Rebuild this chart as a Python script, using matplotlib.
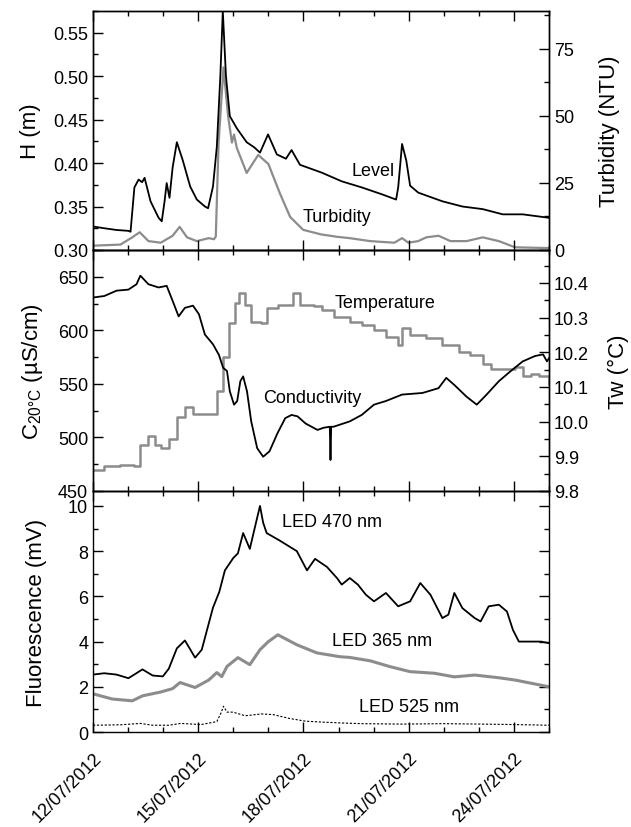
import numpy as np
import matplotlib
matplotlib.use("Agg")
import matplotlib.pyplot as plt
import matplotlib.dates as mdates
from matplotlib.ticker import MultipleLocator

plt.rcParams["font.family"] = ["Liberation Sans", "DejaVu Sans"]
plt.rcParams["mathtext.fontset"] = "custom"
plt.rcParams["mathtext.rm"] = "Liberation Sans"

START = np.datetime64("2012-07-12T00:00")

# --- water level (m) and turbidity (NTU), days since 12/07/2012
level_days = [0.00, 0.32, 0.67, 1.01, 1.07, 1.18, 1.30, 1.40, 1.47, 1.64, 1.87, 1.96, 2.04, 2.10,
              2.18, 2.27, 2.39, 2.56, 2.77, 2.96, 3.19, 3.28, 3.42, 3.53, 3.63, 3.70, 3.79, 3.90,
              4.10, 4.38, 4.60, 4.76, 4.99, 5.24, 5.50, 5.66, 5.90, 6.52, 7.09, 7.66, 8.24, 8.64,
              8.70, 8.81, 8.93, 9.04, 9.27, 9.96, 10.53, 11.11, 11.68, 12.25, 13.00]
level = [0.327, 0.325, 0.323, 0.322, 0.321, 0.372, 0.381, 0.378, 0.383, 0.356, 0.337, 0.333, 0.356,
         0.377, 0.360, 0.395, 0.424, 0.403, 0.373, 0.358, 0.350, 0.348, 0.373, 0.419, 0.500, 0.575,
         0.500, 0.454, 0.440, 0.424, 0.418, 0.412, 0.433, 0.410, 0.405, 0.415, 0.398, 0.389, 0.379,
         0.372, 0.364, 0.358, 0.372, 0.422, 0.403, 0.374, 0.366, 0.356, 0.350, 0.347, 0.341, 0.341,
         0.337]

turb_days = [0.00, 0.78, 1.12, 1.33, 1.58, 1.93, 2.27, 2.47, 2.68, 2.96, 3.30, 3.45, 3.50, 3.58,
             3.72, 3.85, 3.96, 4.02, 4.10, 4.38, 4.71, 5.00, 5.33, 5.62, 5.99, 6.50, 6.96, 7.32,
             7.90, 8.59, 8.81, 8.99, 9.27, 9.50, 9.85, 10.19, 10.65, 11.11, 11.57, 12.03, 13.00]
turbidity = [1.6, 2.0, 4.7, 6.6, 3.3, 2.7, 5.3, 8.6, 4.7, 3.3, 4.4, 4.0, 5.0, 40, 68, 50, 40, 43,
             38, 28.7, 35.4, 32, 21, 12.3, 7.5, 5.8, 4.9, 4.4, 3.3, 2.7, 4.4, 2.7, 3.3, 4.7, 5.3,
             3.3, 3.3, 4.7, 3.3, 1.0, 0.7]

# --- conductivity (uS/cm) and water temperature (degC)
cond_days = [0.00, 0.32, 0.67, 1.01, 1.24, 1.35, 1.58, 1.87, 2.10, 2.27, 2.44, 2.62, 2.85, 3.02,
             3.19, 3.42, 3.59, 3.71, 3.82, 3.90, 4.02, 4.11, 4.20, 4.28, 4.39, 4.51, 4.68, 4.85,
             5.03, 5.26, 5.48, 5.66, 5.83, 6.06, 6.40, 6.57, 6.75, 6.77, 6.79, 6.86, 7.32, 7.66,
             8.01, 8.35, 8.81, 9.39, 9.85, 10.07, 10.30, 10.65, 10.94, 11.22, 11.57, 11.91, 12.25,
             12.60, 12.83, 12.94, 13.00]
conductivity = [630.6, 632, 637, 638, 643, 651, 643, 640, 641.5, 627.5, 613, 621, 623, 615, 596,
                587, 577, 565, 562, 543, 530.6, 534, 552.5, 557, 543, 515, 490, 482, 487, 504,
                518, 521, 519.7, 513, 507, 509, 510, 479, 510, 510, 515, 521, 530.6, 534, 540,
                541.5, 546, 555.6, 549, 538, 530.6, 540, 552.5, 562, 571, 576, 577.5, 571, 574]

temp_days = [0.00, 0.32, 0.78, 1.18, 1.35, 1.58, 1.76, 1.93, 2.16, 2.39, 2.62, 2.85, 3.30, 3.53,
             3.71, 3.88, 4.05, 4.17, 4.34, 4.51, 4.80, 4.97, 5.26, 5.71, 5.89, 6.29, 6.52, 6.86,
             7.32, 7.66, 8.01, 8.35, 8.64, 8.70, 8.81, 9.04, 9.50, 9.96, 10.42, 10.76, 11.11,
             11.34, 12.03, 12.25, 12.48, 12.71, 13.00]
temperature = [9.861, 9.871, 9.876, 9.871, 9.934, 9.958, 9.934, 9.924, 9.949, 10.012, 10.041,
               10.021, 10.021, 10.089, 10.186, 10.283, 10.342, 10.371, 10.337, 10.288, 10.283,
               10.327, 10.337, 10.371, 10.337, 10.332, 10.322, 10.303, 10.288, 10.279, 10.264,
               10.245, 10.245, 10.220, 10.269, 10.250, 10.240, 10.220, 10.201, 10.191, 10.167,
               10.152, 10.157, 10.133, 10.138, 10.133, 10.109]

# --- fluorescence (mV)
led470_days = [0.00, 0.32, 0.67, 1.01, 1.41, 1.70, 1.99, 2.16, 2.39, 2.62, 2.91, 3.10, 3.42, 3.60,
               3.76, 4.00, 4.13, 4.28, 4.47, 4.68, 4.76, 4.85, 4.95, 5.33, 5.81, 6.10, 6.33, 6.67,
               6.96, 7.09, 7.32, 7.55, 7.78, 8.01, 8.35, 8.70, 9.04, 9.33, 9.62, 9.96, 10.13,
               10.30, 10.53, 10.88, 11.05, 11.28, 11.57, 11.80, 11.97, 12.14, 12.48, 12.77, 13.00]
led470 = [2.54, 2.6, 2.54, 2.38, 2.77, 2.5, 2.46, 2.8, 3.7, 4.05, 3.29, 3.64, 5.5, 6.2, 7.15, 7.7,
          7.9, 8.8, 8.1, 9.48, 10.0, 9.26, 8.8, 8.46, 8.0, 7.15, 7.66, 7.3, 6.8, 6.52, 6.81, 6.52,
          6.07, 5.78, 6.15, 5.56, 5.78, 6.59, 6.07, 5.04, 5.19, 6.15, 5.48, 5.04, 4.89, 5.56, 5.63,
          5.33, 4.52, 4.0, 4.0, 4.0, 3.93]

led365_days = [0.00, 0.55, 1.12, 1.41, 1.93, 2.27, 2.48, 2.91, 3.30, 3.53, 3.67, 3.82, 4.13, 4.47,
               4.76, 5.00, 5.27, 5.81, 6.38, 7.04, 7.32, 7.90, 8.47, 9.04, 9.73, 10.30, 10.88,
               11.57, 12.03, 13.00]
led365 = [1.69, 1.46, 1.38, 1.6, 1.77, 1.92, 2.19, 1.97, 2.3, 2.63, 2.45, 2.9, 3.29, 2.98, 3.64,
          4.0, 4.3, 3.86, 3.5, 3.33, 3.3, 3.15, 2.89, 2.67, 2.6, 2.44, 2.52, 2.4, 2.3, 2.0]

led525_days = [0.00, 0.78, 1.35, 1.70, 2.16, 2.50, 3.08, 3.53, 3.65, 3.72, 3.82, 3.99, 4.34, 4.80,
               5.14, 5.60, 6.06, 6.52, 7.09, 7.66, 8.81, 9.96, 11.11, 12.03, 13.00]
led525 = [0.30, 0.32, 0.38, 0.30, 0.30, 0.38, 0.33, 0.46, 0.85, 1.14, 0.88, 0.88, 0.72, 0.80,
          0.77, 0.60, 0.48, 0.44, 0.40, 0.37, 0.35, 0.37, 0.35, 0.33, 0.30]

GREY = "#8c8c8c"


def to_time(days):
    return START + (np.asarray(days) * 86400).astype("timedelta64[s]")


def style(ax, xlabels=False):
    ax.tick_params(which="both", direction="in", top=True, labelsize=13, width=1.0)
    ax.tick_params(which="major", length=7)
    ax.tick_params(which="minor", length=3.5)
    ax.xaxis.set_major_locator(mdates.DayLocator(bymonthday=[12, 15, 18, 21, 24]))
    ax.xaxis.set_minor_locator(mdates.DayLocator())
    ax.xaxis.set_major_formatter(mdates.DateFormatter("%d/%m/%Y"))
    ax.set_xlim(START, START + np.timedelta64(13, "D"))
    if not xlabels:
        ax.tick_params(labelbottom=False)
    for s in ax.spines.values():
        s.set_linewidth(1.0)


fig = plt.figure(figsize=(6.31, 8.28), dpi=100)
ax1 = fig.add_axes([0.1474, 0.6969, 0.7227, 0.2886])
ax2 = fig.add_axes([0.1474, 0.4058, 0.7227, 0.2911])
ax3 = fig.add_axes([0.1474, 0.1147, 0.7227, 0.2911])

# top: level + turbidity
ax1t = ax1.twinx()
ax1t.plot(to_time(turb_days), turbidity, color=GREY, lw=1.6)
ax1.plot(to_time(level_days), level, color="black", lw=1.3)
ax1.set_zorder(ax1t.get_zorder() + 1)
ax1.patch.set_visible(False)
ax1.set_ylim(0.30, 0.575)
ax1.yaxis.set_major_locator(MultipleLocator(0.05))
ax1.yaxis.set_minor_locator(MultipleLocator(0.025))
ax1t.set_ylim(0, 89)
ax1t.yaxis.set_major_locator(MultipleLocator(25))
ax1t.yaxis.set_minor_locator(MultipleLocator(12.5))
ax1.set_ylabel("H (m)", fontsize=16)
ax1t.set_ylabel("Turbidity (NTU)", fontsize=16)
ax1.text(to_time([7.99])[0], 0.391, "Level", fontsize=13, ha="center", va="center")
ax1.text(to_time([6.95])[0], 0.339, "Turbidity", fontsize=13, ha="center", va="center")

# middle: conductivity + temperature
ax2t = ax2.twinx()
ax2t.plot(to_time(temp_days), temperature, color=GREY, lw=1.8, drawstyle="steps-post")
ax2.plot(to_time(cond_days), conductivity, color="black", lw=1.3)
ax2.set_zorder(ax2t.get_zorder() + 1)
ax2.patch.set_visible(False)
ax2.set_ylim(450, 675)
ax2.yaxis.set_major_locator(MultipleLocator(50))
ax2.yaxis.set_minor_locator(MultipleLocator(25))
ax2t.set_ylim(9.8, 10.495)
ax2t.yaxis.set_major_locator(MultipleLocator(0.1))
ax2t.yaxis.set_minor_locator(MultipleLocator(0.05))
ax2.set_ylabel(r"C$_{\mathrm{20°C}}$ (µS/cm)", fontsize=16)
ax2t.set_ylabel("Tw (°C)", fontsize=16)
ax2.text(to_time([8.32])[0], 626, "Temperature", fontsize=13, ha="center", va="center")
ax2.text(to_time([6.26])[0], 537, "Conductivity", fontsize=13, ha="center", va="center")

# bottom: fluorescence
ax3.plot(to_time(led470_days), led470, color="black", lw=1.3)
ax3.plot(to_time(led365_days), led365, color=GREY, lw=2.2)
ax3.plot(to_time(led525_days), led525, color="black", lw=0.8, ls=(0, (2, 1.5)))
ax3.set_ylim(0, 10.66)
ax3.yaxis.set_major_locator(MultipleLocator(2))
ax3.yaxis.set_minor_locator(MultipleLocator(1))
ax3.set_ylabel("Fluorescence (mV)", fontsize=16)
ax3.text(to_time([6.82])[0], 9.33, "LED 470 nm", fontsize=13, ha="center", va="center")
ax3.text(to_time([8.24])[0], 4.07, "LED 365 nm", fontsize=13, ha="center", va="center")
ax3.text(to_time([9.0])[0], 1.15, "LED 525 nm", fontsize=13, ha="center", va="center")

for ax in (ax1, ax1t, ax2, ax2t):
    style(ax)
style(ax3, xlabels=True)
ax3.tick_params(which="both", right=True)
ax3.tick_params(axis="x", pad=12)
for lab in ax3.get_xticklabels():
    lab.set_rotation(45)
    lab.set_ha("right")
    lab.set_rotation_mode("anchor")

ax1.yaxis.set_label_coords(-0.115, 0.5)
ax2.yaxis.set_label_coords(-0.105, 0.5)
ax3.yaxis.set_label_coords(-0.10, 0.5)
ax1t.yaxis.set_label_coords(1.11, 0.5)
ax2t.yaxis.set_label_coords(1.13, 0.5)

fig.savefig("out.png", dpi=100)
